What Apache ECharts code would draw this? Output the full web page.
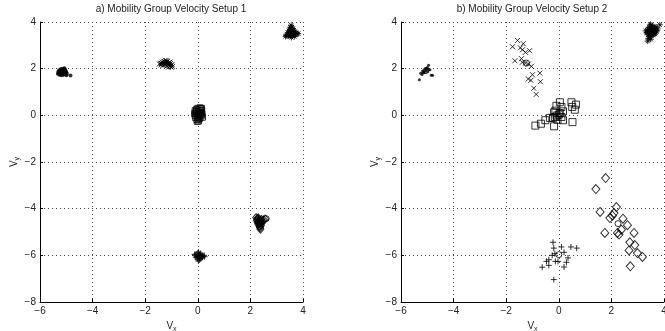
<!DOCTYPE html>
<html>
<head>
<meta charset="utf-8">
<script src="https://cdn.jsdelivr.net/npm/echarts@6.0.0/dist/echarts.min.js"></script>
<style>
  * { margin: 0; padding: 0; }
  body { background: #fff; }
  #chart { width: 665px; height: 331px; }
</style>
</head>
<body>
<div id="chart"></div>
<script>
// axis range and tick step (same for both panels)
var xMin = -6, xMax = 4, xStep = 2;
var yMin = -8, yMax = 4, yStep = 2;
var titles = ["a) Mobility Group Velocity Setup 1", "b) Mobility Group Velocity Setup 2"];

// ---- panel a : setup 1 ----
var aDots = [[-5.32,1.78],[-5.28,1.84],[-5.25,1.9],[-5.22,1.75],[-5.2,1.82],[-5.18,1.95],[-5.16,1.88],[-5.14,1.8],
  [-5.12,1.92],[-5.1,1.86],[-5.08,1.98],[-5.06,1.83],[-5.04,1.76],[-5.02,1.9],[-5.0,1.85],[-5.26,1.74],[-5.3,1.88],
  [-5.15,2.0],[-5.11,1.74],[-5.05,1.94],[-5.19,1.86],[-5.23,1.81],[-5.09,1.79],[-5.13,1.96],[-5.27,1.93],[-4.98,1.78],
  [-5.0,1.72],[-4.84,1.71],[-5.17,1.72],[-5.07,2.02],[-5.21,1.98],[-5.03,1.81],[-5.29,1.8],[-5.14,1.85]];
var aCross = [[-1.46,2.2],[-1.42,2.24],[-1.4,2.16],[-1.36,2.28],[-1.34,2.2],[-1.3,2.32],[-1.28,2.24],[-1.26,2.16],
  [-1.24,2.36],[-1.22,2.28],[-1.2,2.2],[-1.18,2.12],[-1.16,2.3],[-1.14,2.22],[-1.12,2.14],[-1.1,2.26],[-1.08,2.18],
  [-1.06,2.1],[-1.04,2.22],[-1.02,2.14],[-1.0,2.06],[-0.98,2.18],[-0.96,2.1],[-1.32,2.14],[-1.26,2.3],[-1.18,2.34],
  [-1.12,2.06],[-1.06,2.28],[-1.38,2.22],[-1.2,2.26]];
var aSquare = [[-0.1,0.2],[-0.08,0.1],[-0.1,0.0],[-0.08,-0.1],[-0.05,0.25],[-0.04,0.05],[-0.03,-0.18],[0,0.3],
  [0.02,0.15],[0.0,-0.05],[0.03,-0.24],[0.05,0.22],[0.06,0.0],[0.08,-0.12],[0.1,0.28],[0.12,0.12],[0.13,-0.02],
  [0.15,0.2],[0.16,0.05],[0.18,-0.08],[0.0,0.08],[-0.06,0.16],[0.04,-0.15],[0.1,0.06],[-0.02,-0.26],[0.08,0.32],
  [0.14,0.3],[-0.12,0.08],[0.05,0.1],[0.02,-0.1]];
var aStar = [[3.55,3.86],[3.52,3.78],[3.58,3.78],[3.5,3.7],[3.56,3.7],[3.62,3.72],[3.46,3.62],[3.52,3.62],[3.58,3.64],
  [3.64,3.62],[3.7,3.6],[3.42,3.54],[3.48,3.54],[3.54,3.56],[3.6,3.55],[3.66,3.54],[3.72,3.52],[3.78,3.5],[3.4,3.46],
  [3.46,3.46],[3.52,3.48],[3.58,3.46],[3.64,3.46],[3.7,3.44],[3.34,3.38],[3.44,3.4],[3.52,3.4],[3.6,3.4],[3.68,3.38],
  [3.82,3.5],[3.56,3.34],[3.36,3.42]];
var aDiamond = [[2.22,-4.38],[2.26,-4.42],[2.3,-4.4],[2.24,-4.5],[2.3,-4.5],[2.36,-4.48],[2.42,-4.46],[2.27,-4.58],
  [2.33,-4.58],[2.39,-4.56],[2.45,-4.52],[2.3,-4.66],[2.36,-4.66],[2.42,-4.64],[2.34,-4.74],[2.4,-4.72],[2.37,-4.82],
  [2.38,-4.88],[2.28,-4.46],[2.35,-4.54],[2.5,-4.48],[2.56,-4.44],[2.32,-4.62],[2.4,-4.6],[2.36,-4.78]];
var aPlus = [[-0.1,-6.0],[-0.06,-5.94],[-0.04,-6.06],[0.0,-5.9],[0.02,-6.0],[0.04,-6.12],[0.06,-5.96],[0.08,-6.06],
  [0.1,-5.92],[0.12,-6.02],[0.14,-6.1],[0.16,-5.98],[0.2,-6.04],[0.24,-6.0],[-0.02,-6.16],[0.06,-6.2],[0.0,-6.04],
  [-0.08,-6.08],[0.1,-6.14],[0.18,-6.08],[0.03,-5.86],[-0.12,-5.96],[0.08,-6.0],[0.02,-6.24],[0.26,-6.06]];
var aCircle = [[2.6,-4.43]];

// ---- panel b : setup 2 ----
var bDots = [[-5.3,1.53],[-5.25,1.8],[-5.15,1.85],[-5.1,1.9],[-5.05,1.95],[-5.0,2.05],[-4.95,2.15],[-4.9,1.95],
  [-4.85,1.72],[-4.8,1.72],[-5.2,1.75],[-5.12,1.82],[-5.0,1.88],[-4.97,1.98],[-5.07,2.0],[-5.18,1.9]];
var bCross = [[-1.57,3.21],[-1.35,3.07],[-1.76,2.94],[-1.46,2.89],[-1.38,2.81],[-1.27,2.7],[-1.11,2.77],[-1.67,2.34],
  [-1.42,2.43],[-1.39,2.27],[-1.27,2.24],[-1.16,2.2],[-1.04,2.1],[-1.0,1.74],[-0.72,1.81],[-1.16,1.56],[-1.06,1.5],
  [-0.7,1.44],[-0.95,1.16],[-0.86,0.9]];
var bSquare = [[-0.89,-0.44],[-0.68,-0.36],[-0.51,-0.21],[-0.34,-0.11],[-0.18,-0.47],[-0.15,-0.07],[-0.13,0.2],
  [-0.09,0.41],[0.04,0.56],[0.1,0.36],[0.16,0.17],[0.0,0.03],[0.1,-0.07],[-0.05,-0.19],[0.16,-0.21],[0.48,0.56],
  [0.51,0.36],[0.61,0.24],[0.65,0.46],[0.52,-0.29],[-0.18,0.13],[0.04,0.1],[-0.08,-0.01],[-0.22,-0.11]];
var bStar = [[3.3,3.62],[3.35,3.55],[3.38,3.7],[3.4,3.45],[3.42,3.6],[3.44,3.78],[3.46,3.5],[3.48,3.66],[3.5,3.86],
  [3.52,3.4],[3.54,3.56],[3.56,3.72],[3.58,3.62],[3.6,3.5],[3.62,3.8],[3.64,3.66],[3.66,3.56],[3.68,3.74],[3.7,3.64],
  [3.72,3.58],[3.4,3.3],[3.38,3.18],[3.46,3.38],[3.5,3.26],[3.56,3.82],[3.6,3.7],[3.7,3.78],[3.84,3.88],[3.76,3.7],
  [3.36,3.52],[3.44,3.68],[3.52,3.72],[3.48,3.9],[3.58,3.44],[3.66,3.48]];
var bDiamond = [[1.78,-2.69],[1.41,-3.16],[2.19,-3.93],[1.57,-4.14],[2.1,-4.19],[1.94,-4.4],[2.44,-4.43],[2.04,-4.3],
  [2.61,-4.71],[2.38,-4.9],[2.29,-5.11],[2.23,-5.04],[1.75,-5.04],[2.86,-5.04],[2.7,-5.44],[2.89,-5.56],[2.67,-5.79],
  [2.99,-5.9],[3.18,-6.07],[2.72,-6.47]];
var bPlus = [[-0.22,-5.44],[-0.19,-5.69],[-0.15,-5.93],[0.1,-5.64],[0.46,-5.64],[0.68,-5.69],[-0.25,-6.0],[0.2,-5.87],
  [0.35,-6.11],[-0.38,-6.19],[-0.47,-6.26],[-0.13,-6.26],[-0.03,-6.26],[0.29,-6.3],[-0.38,-6.43],[-0.63,-6.51],
  [0.2,-6.5],[-0.19,-7.04]];
var bCircle = [[-5.05,1.92],[-1.23,2.24],[2.25,-4.64],[0.0,-5.97]];

var symX = 'path://M0,0L10,10M10,0L0,10';
var symPlus = 'path://M5,0L5,10M0,5L10,5';
var symStar = 'path://M5,0L5,10M0,5L10,5M1.5,1.5L8.5,8.5M8.5,1.5L1.5,8.5';

function pts(data, idx, symbol, size, filled) {
  return {
    type: 'scatter',
    xAxisIndex: idx,
    yAxisIndex: idx,
    data: data,
    symbol: symbol,
    symbolSize: size,
    silent: true,
    itemStyle: filled
      ? { color: '#000' }
      : { color: 'none', borderColor: '#000', borderWidth: 1 }
  };
}

var font = 'Liberation Sans';
var gridLine = { show: true, lineStyle: { color: '#444', type: [1, 3], width: 1 } };

function xAx(idx) {
  return {
    gridIndex: idx, type: 'value', min: xMin, max: xMax, interval: xStep,
    axisLine: { onZero: false, lineStyle: { color: '#000', width: 1 } },
    axisTick: { inside: true, length: 3, lineStyle: { color: '#000' } },
    axisLabel: { color: '#222', fontFamily: font, fontSize: 10, margin: 4,
      formatter: function (v) { return String(v).replace('-', '\u2212'); } },
    splitLine: gridLine,
    name: '{v|V}{s|x}', nameLocation: 'middle', nameGap: 10,
    nameTextStyle: { rich: {
      v: { fontFamily: font, fontSize: 10, color: '#222' },
      s: { fontFamily: font, fontSize: 7, color: '#222', padding: [6, 0, 0, 0] }
    } }
  };
}
function yAx(idx) {
  return {
    gridIndex: idx, type: 'value', min: yMin, max: yMax, interval: yStep,
    axisLine: { onZero: false, lineStyle: { color: '#000', width: 1 } },
    axisTick: { inside: true, length: 3, lineStyle: { color: '#000' } },
    axisLabel: { color: '#222', fontFamily: font, fontSize: 10, margin: 4,
      formatter: function (v) { return String(v).replace('-', '\u2212'); } },
    splitLine: gridLine,
    name: '{v|V}{s|y}', nameLocation: 'middle', nameGap: 19, nameRotate: 90,
    nameTextStyle: { rich: {
      v: { fontFamily: font, fontSize: 10, color: '#222' },
      s: { fontFamily: font, fontSize: 7, color: '#222', padding: [6, 0, 0, 0] }
    } }
  };
}

var chart = echarts.init(document.getElementById('chart'), null, { renderer: 'canvas' });
chart.setOption({
  animation: false,
  backgroundColor: '#fff',
  title: [
    { text: titles[0], left: 171, top: 4, textAlign: 'center', padding: 0,
      textStyle: { fontFamily: font, fontSize: 10, fontWeight: 'normal', color: '#222' } },
    { text: titles[1], left: 532, top: 4, textAlign: 'center', padding: 0,
      textStyle: { fontFamily: font, fontSize: 10, fontWeight: 'normal', color: '#222' } }
  ],
  grid: [
    { left: 40, top: 22, width: 263, height: 280, outerBoundsMode: 'none' },
    { left: 401, top: 22, width: 263, height: 280, outerBoundsMode: 'none' }
  ],
  xAxis: [xAx(0), xAx(1)],
  yAxis: [yAx(0), yAx(1)],
  series: [
    pts(aDots, 0, 'circle', 4, true),
    pts(aCross, 0, symX, 5, false),
    pts(aSquare, 0, 'rect', 6, false),
    pts(aStar, 0, symStar, 6, false),
    pts(aDiamond, 0, 'diamond', [7, 8], false),
    pts(aPlus, 0, symPlus, 6, false),
    pts(aCircle, 0, 'circle', 6, false),
    pts(bDots, 1, 'circle', 3, true),
    pts(bCross, 1, symX, 5, false),
    pts(bSquare, 1, 'rect', 7, false),
    pts(bStar, 1, symStar, 6, false),
    pts(bDiamond, 1, 'diamond', [8, 9], false),
    pts(bPlus, 1, symPlus, 6, false),
    pts(bCircle, 1, 'circle', 6, false)
  ]
});
</script>
</body>
</html>
